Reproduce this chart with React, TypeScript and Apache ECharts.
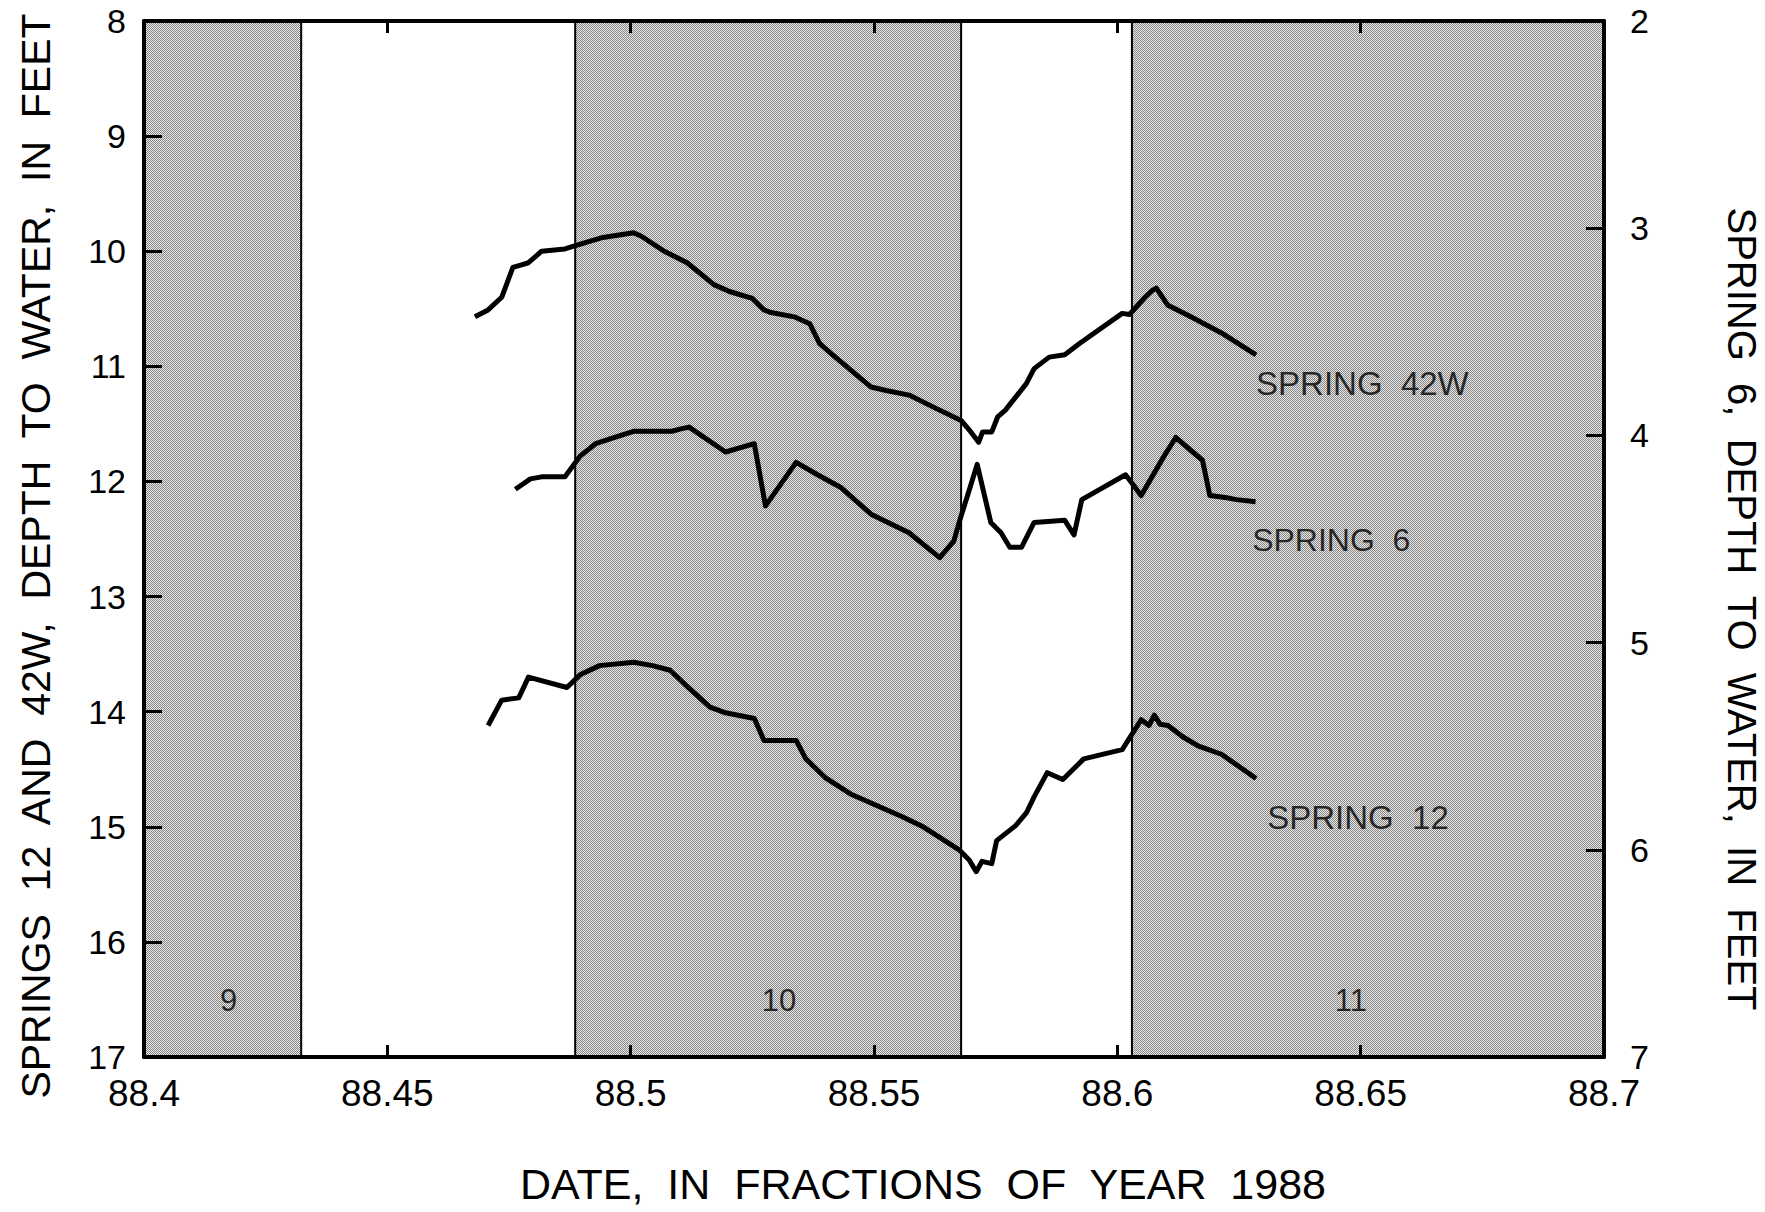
import React, { useEffect, useRef } from 'react';
import * as echarts from 'echarts';

const FONT = '"Liberation Sans", Arial, Helvetica, sans-serif';

// Shaded month periods (fraction of year 1988) and their numbers
const monthNames = ['9', '10', '11'];
const monthStart = [88.4, 88.4886, 88.603];
const monthEnd = [88.4323, 88.5679, 88.7];
const monthLabelDate = [88.4174, 88.5305, 88.648];
const monthLabelDepth = 16.51;

// Spring 42W, depth to water (ft, left axis)
const spring42wDate = [
  88.468, 88.4707, 88.4735, 88.4758, 88.4774, 88.479, 88.4817, 88.4865, 88.4888, 88.4943,
  88.5006, 88.5022, 88.5069, 88.5116, 88.5171, 88.5203, 88.525, 88.5274, 88.5286, 88.5336,
  88.5368, 88.5388, 88.5415, 88.5494, 88.5525, 88.5572, 88.562, 88.5679, 88.5699, 88.5715,
  88.5723, 88.5742, 88.5754, 88.577, 88.5813, 88.5829, 88.586, 88.5892, 88.5923, 88.601,
  88.6025, 88.6057, 88.6072, 88.608, 88.6104, 88.6151, 88.6214, 88.6285,
];
const spring42wDepth = [
  10.57, 10.51, 10.4, 10.14, 10.12, 10.1, 10.0, 9.98, 9.95, 9.88,
  9.84, 9.87, 10.0, 10.1, 10.29, 10.35, 10.41, 10.51, 10.53, 10.57,
  10.63, 10.8, 10.9, 11.18, 11.21, 11.25, 11.35, 11.47, 11.57, 11.66,
  11.57, 11.57, 11.44, 11.38, 11.15, 11.02, 10.92, 10.9, 10.8, 10.54,
  10.55, 10.4, 10.34, 10.32, 10.47, 10.57, 10.71, 10.9,
];

// Spring 6, depth to water (ft, right axis)
const spring6Date = [
  88.4763, 88.4794, 88.4817, 88.4865, 88.4896, 88.4928, 88.4967, 88.5006, 88.5085, 88.5101,
  88.512, 88.5195, 88.5254, 88.5277, 88.534, 88.5384, 88.5431, 88.5494, 88.5572, 88.5635,
  88.5664, 88.5675, 88.5712, 88.574, 88.5761, 88.5779, 88.5803, 88.5829, 88.5892, 88.5911,
  88.5927, 88.6017, 88.6049, 88.6096, 88.612, 88.6175, 88.619, 88.6222, 88.6245, 88.6284,
];
const spring6Depth = [
  4.26, 4.21, 4.2, 4.2, 4.1, 4.04, 4.01, 3.98, 3.98, 3.97,
  3.96, 4.08, 4.04, 4.34, 4.13, 4.19, 4.25, 4.38, 4.47, 4.59,
  4.51, 4.42, 4.14, 4.42, 4.47, 4.54, 4.54, 4.42, 4.41, 4.48,
  4.31, 4.19, 4.29, 4.1, 4.01, 4.12, 4.29, 4.3, 4.31, 4.32,
];

// Spring 12, depth to water (ft, left axis)
const spring12Date = [
  88.4707, 88.4735, 88.477, 88.479, 88.4869, 88.4896, 88.4936, 88.5006, 88.5045, 88.5081,
  88.5116, 88.5163, 88.5195, 88.5254, 88.5274, 88.534, 88.536, 88.5399, 88.5454, 88.5557,
  88.5601, 88.5675, 88.5696, 88.571, 88.5722, 88.5742, 88.5752, 88.5791, 88.5813, 88.5829,
  88.5856, 88.5888, 88.5931, 88.601, 88.6025, 88.6049, 88.6065, 88.6076, 88.6088, 88.6104,
  88.6135, 88.6167, 88.6214, 88.6285,
];
const spring12Depth = [
  14.12, 13.9, 13.88, 13.7, 13.79, 13.68, 13.6, 13.57, 13.6, 13.64,
  13.78, 13.96, 14.01, 14.06, 14.25, 14.25, 14.41, 14.57, 14.72, 14.91,
  15.0, 15.2, 15.29, 15.39, 15.3, 15.32, 15.12, 14.99, 14.88, 14.74,
  14.53, 14.59, 14.41, 14.33, 14.23, 14.07, 14.12, 14.03, 14.11, 14.12,
  14.22, 14.3, 14.37, 14.58,
];

const zip = (xs: number[], ys: number[]) => xs.map((x, i) => [x, ys[i]]);

function makeDotPattern(): HTMLCanvasElement {
  const c = document.createElement('canvas');
  c.width = 2;
  c.height = 2;
  const ctx = c.getContext('2d')!;
  ctx.fillStyle = '#e8e8e8';
  ctx.fillRect(0, 0, 2, 2);
  ctx.fillStyle = '#868686';
  ctx.fillRect(0, 0, 1, 1);
  ctx.fillRect(1, 1, 1, 1);
  return c;
}

export default function App() {
  const ref = useRef<HTMLDivElement>(null);

  useEffect(() => {
    if (!ref.current) return;
    const chart = echarts.init(ref.current, null, { renderer: 'svg' });

    const pattern = { image: makeDotPattern(), repeat: 'repeat' };
    const lineStyle = { color: '#000', width: 5, join: 'round' };
    const axisText = { color: '#000', fontFamily: FONT };
    const textLabel = (size: number) => ({
      show: true,
      position: 'right',
      distance: 0,
      formatter: '{b}',
      color: '#000',
      fontFamily: FONT,
      fontSize: size,
    });

    const xAxisBase = {
      type: 'value',
      min: 88.4,
      max: 88.7,
      interval: 0.05,
      z: 10,
      splitLine: { show: false },
      axisLine: { show: true, onZero: false, lineStyle: { color: '#000', width: 4 } },
      axisTick: { show: true, inside: true, length: 12, lineStyle: { color: '#000', width: 3 } },
    };
    const yAxisBase = {
      type: 'value',
      inverse: true,
      interval: 1,
      z: 10,
      splitLine: { show: false },
      axisLine: { show: true, onZero: false, lineStyle: { color: '#000', width: 4 } },
      axisTick: { show: true, inside: true, length: 18, lineStyle: { color: '#000', width: 3 } },
    };

    const option = {
      animation: false,
      backgroundColor: '#ffffff',
      grid: { left: 144, top: 21, width: 1460, height: 1036, containLabel: false },
      xAxis: [
        {
          ...xAxisBase,
          position: 'bottom',
          axisLabel: {
            ...axisText,
            fontSize: 37,
            margin: 18,
            formatter: (v: number) => String(parseFloat(v.toFixed(2))),
          },
        },
        { ...xAxisBase, position: 'top', axisLabel: { show: false } },
      ],
      yAxis: [
        {
          ...yAxisBase,
          position: 'left',
          min: 8,
          max: 17,
          axisLabel: { ...axisText, fontSize: 34, margin: 18 },
        },
        {
          ...yAxisBase,
          position: 'right',
          min: 2,
          max: 7,
          axisLabel: { ...axisText, fontSize: 34, margin: 26 },
        },
      ],
      series: [
        {
          type: 'line',
          name: 'months',
          data: [],
          silent: true,
          markArea: {
            silent: true,
            label: { show: false },
            itemStyle: { color: pattern, borderColor: '#000', borderWidth: 2 },
            data: monthNames.map((m, i) => [
              { name: m, xAxis: monthStart[i] },
              { xAxis: monthEnd[i] },
            ]),
          },
        },
        {
          type: 'scatter',
          name: 'month-numbers',
          symbolSize: 0,
          silent: true,
          z: 6,
          label: { ...textLabel(31), position: 'inside' },
          data: monthNames.map((m, i) => ({ name: m, value: [monthLabelDate[i], monthLabelDepth] })),
        },
        {
          type: 'line',
          name: 'SPRING 42W',
          data: zip(spring42wDate, spring42wDepth),
          showSymbol: false,
          lineStyle,
          z: 5,
        },
        {
          type: 'line',
          name: 'SPRING 6',
          yAxisIndex: 1,
          data: zip(spring6Date, spring6Depth),
          showSymbol: false,
          lineStyle,
          z: 5,
        },
        {
          type: 'line',
          name: 'SPRING 12',
          data: zip(spring12Date, spring12Depth),
          showSymbol: false,
          lineStyle,
          z: 5,
        },
        {
          type: 'scatter',
          name: 'labels-left',
          symbolSize: 0,
          silent: true,
          z: 6,
          label: textLabel(33),
          data: [
            { name: 'SPRING  42W', value: [88.6285, 11.15] },
            { name: 'SPRING  12', value: [88.6308, 14.92] },
          ],
        },
        {
          type: 'scatter',
          name: 'labels-right',
          yAxisIndex: 1,
          symbolSize: 0,
          silent: true,
          z: 6,
          label: textLabel(32),
          data: [{ name: 'SPRING  6', value: [88.6277, 4.505] }],
        },
      ],
      graphic: [
        {
          type: 'text',
          x: 36,
          y: 556,
          rotation: Math.PI / 2,
          style: {
            text: 'SPRINGS  12  AND  42W,  DEPTH  TO  WATER,  IN  FEET',
            fill: '#000',
            font: `41px ${FONT}`,
            textAlign: 'center',
            textVerticalAlign: 'middle',
          },
        },
        {
          type: 'text',
          x: 1742,
          y: 609,
          rotation: -Math.PI / 2,
          style: {
            text: 'SPRING  6,  DEPTH  TO  WATER,  IN  FEET',
            fill: '#000',
            font: `40px ${FONT}`,
            textAlign: 'center',
            textVerticalAlign: 'middle',
          },
        },
        {
          type: 'text',
          x: 923,
          y: 1184,
          style: {
            text: 'DATE,  IN  FRACTIONS  OF  YEAR  1988',
            fill: '#000',
            font: `43px ${FONT}`,
            textAlign: 'center',
            textVerticalAlign: 'middle',
          },
        },
      ],
    };

    chart.setOption(option as any);
    return () => chart.dispose();
  }, []);

  return (
    <div
      ref={ref}
      style={{ position: 'absolute', left: 0, top: 0, width: 1765, height: 1212, background: '#fff' }}
    />
  );
}
